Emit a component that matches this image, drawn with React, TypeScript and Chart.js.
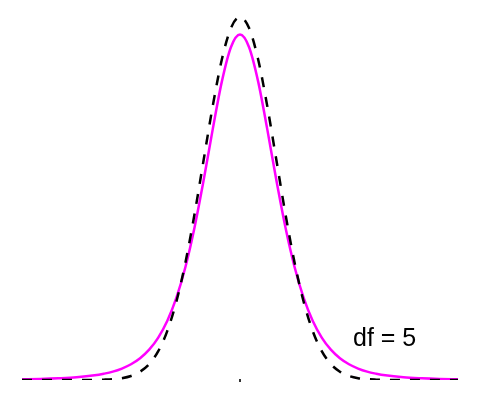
import React, { useEffect, useRef } from "react";
import { Chart, registerables } from "chart.js";

Chart.register(...registerables);

const xValues: number[] = [
  -6, -5.5, -5, -4.5, -4, -3.75, -3.5, -3.25, -3, -2.75, -2.5, -2.25, -2, -1.75, -1.5, -1.25, -1, -0.75, -0.5, -0.25,
  0,
  0.25, 0.5, 0.75, 1, 1.25, 1.5, 1.75, 2, 2.25, 2.5, 2.75, 3, 3.25, 3.5, 3.75, 4, 4.5, 5, 5.5, 6,
];

const normalValues: number[] = [
  0, 0, 0, 0, 0.0001, 0.0004, 0.0009, 0.002, 0.0044, 0.0091, 0.0175, 0.0317, 0.054, 0.0863, 0.1295, 0.1826, 0.242, 0.3011, 0.3521, 0.3867,
  0.3989,
  0.3867, 0.3521, 0.3011, 0.242, 0.1826, 0.1295, 0.0863, 0.054, 0.0317, 0.0175, 0.0091, 0.0044, 0.002, 0.0009, 0.0004, 0.0001, 0, 0, 0, 0,
];

const tValues: number[] = [
  0.0007, 0.0011, 0.0018, 0.0029, 0.0051, 0.0069, 0.0092, 0.0126, 0.0173, 0.0239, 0.0333, 0.0466, 0.0651, 0.0905, 0.1245, 0.1679, 0.2197, 0.2757, 0.3279, 0.3657,
  0.3796,
  0.3657, 0.3279, 0.2757, 0.2197, 0.1679, 0.1245, 0.0905, 0.0651, 0.0466, 0.0333, 0.0239, 0.0173, 0.0126, 0.0092, 0.0069, 0.0051, 0.0029, 0.0018, 0.0011, 0.0007,
];

const labelText = "df = 5";
const labelX = 3.98;
const labelY = 0.0374;

const annotate = {
  id: "annotate",
  afterDatasetsDraw(chart: any) {
    const { ctx, scales } = chart;
    const xs = scales.x;
    const ys = scales.y;
    ctx.save();
    ctx.fillStyle = "#333333";
    ctx.fillRect(Math.round(xs.getPixelForValue(0)) - 1, Math.round(ys.getPixelForValue(0)) - 1, 2, 3);
    ctx.fillStyle = "#000000";
    ctx.font = "25px 'Liberation Sans', Arial, sans-serif";
    ctx.textAlign = "center";
    ctx.textBaseline = "alphabetic";
    ctx.fillText(labelText, xs.getPixelForValue(labelX), ys.getPixelForValue(labelY));
    ctx.restore();
  },
};

export default function App() {
  const ref = useRef<HTMLCanvasElement | null>(null);
  useEffect(() => {
    if (!ref.current) return;
    const chart = new Chart(ref.current, {
      type: "line",
      data: {
        datasets: [
          {
            label: "Normal",
            data: xValues.map((x, i) => ({ x, y: normalValues[i] })),
            borderColor: "#000000",
            borderWidth: 2.5,
            borderDash: [10, 10],
            pointRadius: 0,
            cubicInterpolationMode: "monotone",
            fill: false,
          },
          {
            label: "t (df = 5)",
            data: xValues.map((x, i) => ({ x, y: tValues[i] })),
            borderColor: "#ff00ff",
            borderWidth: 2.5,
            pointRadius: 0,
            cubicInterpolationMode: "monotone",
            fill: false,
          },
        ],
      },
      options: {
        animation: false,
        responsive: false,
        devicePixelRatio: 1,
        layout: { padding: { left: 22, right: 22, top: 16, bottom: 20 } },
        plugins: { legend: { display: false }, tooltip: { enabled: false } },
        scales: {
          x: { type: "linear", min: -6, max: 6, display: false },
          y: { type: "linear", min: 0, max: 0.4, display: false },
        },
      },
      plugins: [annotate],
    });
    return () => chart.destroy();
  }, []);
  return (
    <div style={{ position: "absolute", left: 0, top: 0, width: 480, height: 400, background: "#fff" }}>
      <canvas ref={ref} width={480} height={400} />
    </div>
  );
}
